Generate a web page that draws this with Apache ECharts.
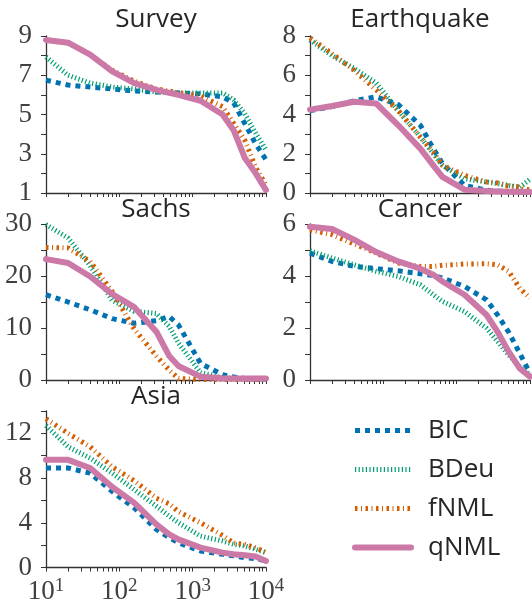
<!DOCTYPE html>
<html>
<head>
<meta charset="utf-8">
<script src="https://cdn.jsdelivr.net/npm/echarts@6/dist/echarts.min.js"></script>
<style>
  html, body { margin: 0; padding: 0; background: #fff; }
  #chart { width: 532px; height: 605px; }
</style>
</head>
<body>
<div id="chart"></div>
<script>
// sample sizes (x axis, log scale)
const sampleSizes = [10, 20, 40, 80, 160, 320, 480, 640, 1280, 2560, 3620, 5120, 7240, 10000]
const methods = ['BIC', 'BDeu', 'fNML', 'qNML']

// Survey
const surveyBIC  = [6.75, 6.5, 6.4, 6.3, 6.2, 6.15, 6.12, 6.1, 6.05, 5.9, 5.6, 4.55, 3.5, 2.7]
const surveyBDeu = [7.93, 7.0, 6.6, 6.4, 6.3, 6.15, 6.12, 6.1, 6.1, 6.1, 5.75, 5.05, 4.05, 3.2]
const surveyFNML = [8.8, 8.65, 8.05, 7.25, 6.7, 6.3, 6.2, 6.1, 5.95, 5.4, 4.55, 3.7, 2.3, 1.4]
const surveyQNML = [8.8, 8.66, 8.05, 7.2, 6.6, 6.25, 6.1, 6.0, 5.7, 5.0, 4.2, 2.8, 2.0, 1.15]
// Earthquake
const earthBIC  = [4.2, 4.4, 4.7, 4.9, 4.5, 3.45, 2.26, 1.5, 0.39, 0.14, 0.1, 0.08, 0.07, 0.05]
const earthBDeu = [7.8, 7.0, 6.35, 5.6, 4.2, 2.85, 2.0, 1.4, 0.73, 0.56, 0.48, 0.39, 0.3, 0.7]
const earthFNML = [7.9, 7.1, 6.25, 5.25, 4.2, 2.85, 2.1, 1.41, 0.9, 0.56, 0.51, 0.34, 0.31, 0.14]
const earthQNML = [4.25, 4.43, 4.65, 4.56, 3.45, 2.26, 1.41, 0.82, 0.17, 0.1, 0.08, 0.07, 0.06, 0.05]
// Sachs
const sachsBIC  = [16.4, 15.0, 13.5, 11.8, 10.9, 11.4, 12.2, 10.6, 3.2, 1.0, 0.6, 0.3, 0.2, 0.2]
const sachsBDeu = [29.9, 27.3, 22.0, 15.3, 13.2, 12.8, 10.3, 7.1, 1.4, 0.45, 0.3, 0.3, 0.3, 0.3]
const sachsFNML = [25.5, 25.4, 22.8, 17.0, 9.8, 4.6, 1.9, 0.3, 0.1, 0.1, 0.1, 0.1, 0.1, 0.1]
const sachsQNML = [23.25, 22.5, 19.9, 16.5, 14.0, 9.3, 4.6, 2.7, 0.64, 0.32, 0.3, 0.3, 0.3, 0.3]
// Cancer
const cancerBIC  = [4.88, 4.56, 4.37, 4.28, 4.2, 4.09, 4.02, 3.92, 3.6, 3.08, 2.5, 1.84, 1.03, 0.26]
const cancerBDeu = [4.97, 4.69, 4.43, 4.18, 3.98, 3.66, 3.28, 3.02, 2.63, 1.99, 1.48, 0.96, 0.51, 0.19]
const cancerFNML = [5.78, 5.59, 5.23, 4.88, 4.5, 4.37, 4.37, 4.41, 4.46, 4.47, 4.43, 4.18, 3.53, 3.15]
const cancerQNML = [5.89, 5.81, 5.4, 4.92, 4.56, 4.28, 4.05, 3.79, 3.28, 2.5, 1.85, 1.09, 0.45, 0.13]
// Asia
const asiaBIC  = [8.9, 8.9, 8.44, 6.8, 5.33, 3.4, 2.67, 2.22, 1.48, 1.19, 1.04, 0.89, 0.8, 0.59]
const asiaBDeu = [12.7, 10.8, 9.78, 8.44, 6.96, 5.48, 4.6, 4.0, 2.81, 2.37, 2.07, 1.93, 1.63, 1.33]
const asiaFNML = [13.3, 12.0, 10.8, 9.0, 7.76, 6.2, 5.7, 5.0, 4.0, 2.87, 2.2, 2.07, 1.78, 1.33]
const asiaQNML = [9.63, 9.63, 8.9, 7.2, 5.78, 3.85, 2.96, 2.52, 1.78, 1.33, 1.19, 1.1, 0.98, 0.59]

// x ticks
const majorTicks = [10, 100, 1000, 10000]
const allTicks = [10, 20, 30, 40, 50, 60, 70, 80, 90, 100, 200, 300, 400, 500, 600, 700, 800, 900,
  1000, 2000, 3000, 4000, 5000, 6000, 7000, 8000, 9000, 10000]

const panels = [
  { title: 'Survey', values: [surveyBIC, surveyBDeu, surveyFNML, surveyQNML], yMin: 1, yMax: 9, yStep: 2 },
  { title: 'Earthquake', values: [earthBIC, earthBDeu, earthFNML, earthQNML], yMin: 0, yMax: 8, yStep: 2 },
  { title: 'Sachs', values: [sachsBIC, sachsBDeu, sachsFNML, sachsQNML], yMin: 0, yMax: 30, yStep: 10 },
  { title: 'Cancer', values: [cancerBIC, cancerBDeu, cancerFNML, cancerQNML], yMin: 0, yMax: 6, yStep: 2 },
  { title: 'Asia', values: [asiaBIC, asiaBDeu, asiaFNML, asiaQNML], yMin: 0, yMax: 14, yStep: 4 },
]

// layout of each panel (px)
const boxes = [
  { left: 46, top: 36, width: 220, height: 157, titleTop: 7 },
  { left: 310, top: 36, width: 220, height: 157, titleTop: 7 },
  { left: 46, top: 224, width: 220, height: 156, titleTop: 197 },
  { left: 310, top: 224, width: 220, height: 156, titleTop: 197 },
  { left: 46, top: 411, width: 220, height: 157, titleTop: 384 },
]

const lineStyles = {
  BIC: { color: '#0072B2', width: 5, type: [5, 5], cap: 'butt' },
  BDeu: { color: '#009E73', width: 5, type: [1.2, 2.4], cap: 'butt' },
  fNML: { color: '#D55E00', width: 5, type: [2.5, 3.5, 1, 3.5], cap: 'butt' },
  qNML: { color: '#CC79A7', width: 6, type: 'solid', cap: 'round', join: 'round' },
}

const axisColor = '#333'
const labelColor = '#404040'
const serif = 'Liberation Serif'
const sans = 'Open Sans'

const chart = echarts.init(document.getElementById('chart'))

const option = {
  animation: false,
  title: panels.map((p, i) => ({
    text: p.title,
    left: boxes[i].left + boxes[i].width / 2,
    top: boxes[i].titleTop,
    textAlign: 'center',
    padding: 0,
    textStyle: { fontFamily: sans, fontSize: 26, fontWeight: 'normal', color: '#262626' }
  })),
  grid: boxes.map(b => ({ left: b.left, top: b.top, width: b.width, height: b.height })),
  xAxis: panels.map((p, i) => ({
    type: 'log',
    logBase: 10,
    gridIndex: i,
    min: 10,
    max: 10000,
    axisLine: { show: true, lineStyle: { color: axisColor, width: 1.3 } },
    axisTick: { show: true, length: 4, customValues: allTicks, lineStyle: { color: axisColor, width: 1 } },
    splitLine: { show: false },
    axisLabel: {
      show: i === 4,
      customValues: majorTicks,
      margin: 9,
      formatter: v => '{b|10}{s|' + Math.round(Math.log10(v)) + '}',
      rich: {
        b: { fontFamily: serif, fontSize: 27, color: labelColor, lineHeight: 30 },
        s: { fontFamily: serif, fontSize: 19, color: labelColor, verticalAlign: 'top', lineHeight: 16 }
      }
    }
  })),
  yAxis: panels.map((p, i) => ({
    type: 'value',
    gridIndex: i,
    min: p.yMin,
    max: p.yMax,
    interval: p.yStep,
    axisLine: { show: true, lineStyle: { color: axisColor, width: 1.3 } },
    axisTick: { show: true, length: 5, lineStyle: { color: axisColor } },
    minorTick: { show: true, splitNumber: 2, length: 5, lineStyle: { color: axisColor } },
    splitLine: { show: false },
    axisLabel: {
      margin: 14,
      showMaxLabel: p.yMax % p.yStep === (p.yMin % p.yStep),
      fontFamily: serif,
      fontSize: 27,
      color: labelColor
    }
  })),
  legend: {
    data: methods.map(m => ({
      name: m,
      itemStyle: { opacity: 0 },
      lineStyle: {
        color: lineStyles[m].color,
        width: lineStyles[m].width,
        type: lineStyles[m].type,
        cap: lineStyles[m].cap,
        opacity: 1
      }
    })),
    orient: 'vertical',
    left: 347,
    top: 410,
    itemWidth: 56,
    itemHeight: 8,
    itemGap: 8,
    textStyle: { fontFamily: sans, fontSize: 26, color: '#262626', lineHeight: 31, padding: [0, 0, 0, 12] }
  },
  series: []
}

panels.forEach((p, i) => {
  methods.forEach((m, k) => {
    option.series.push({
      type: 'line',
      name: m,
      xAxisIndex: i,
      yAxisIndex: i,
      symbol: 'none',
      lineStyle: lineStyles[m],
      itemStyle: { color: lineStyles[m].color },
      emphasis: { disabled: true },
      data: sampleSizes.map((x, j) => [x, p.values[k][j]])
    })
  })
})

chart.setOption(option)
</script>
</body>
</html>
